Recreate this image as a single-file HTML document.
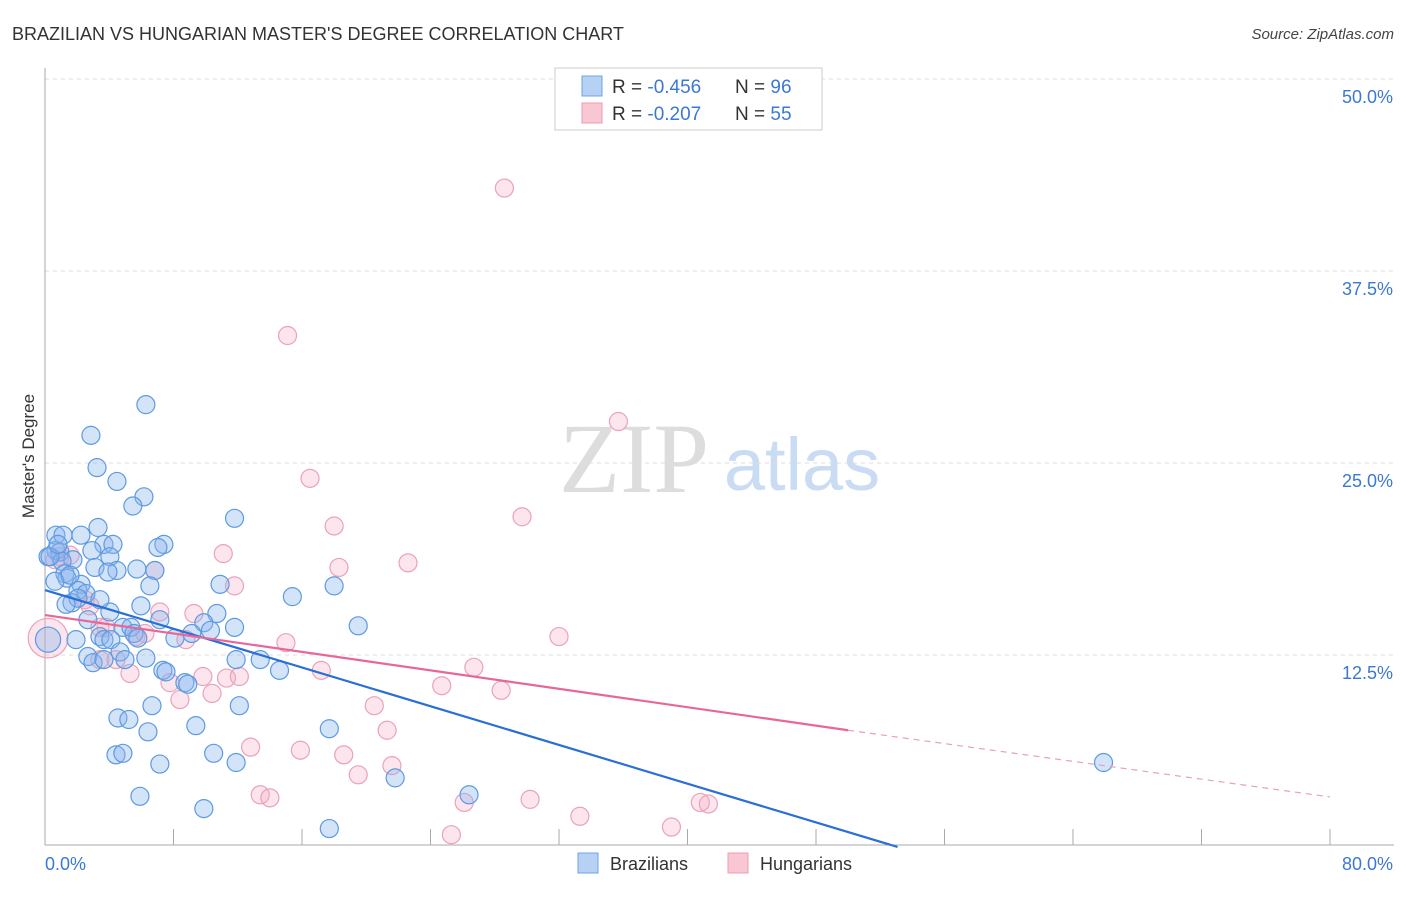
<!DOCTYPE html>
<html><head><meta charset="utf-8"><style>
body{margin:0;background:#fff;font-family:"Liberation Sans",sans-serif;}
svg text{font-family:"Liberation Sans",sans-serif;}
</style></head><body>
<svg id="chart" width="1406" height="892" xmlns="http://www.w3.org/2000/svg">
<text x="12" y="40" font-size="18" fill="#333">BRAZILIAN VS HUNGARIAN MASTER'S DEGREE CORRELATION CHART</text>
<text x="1394" y="39" font-size="15" fill="#444" font-style="italic" text-anchor="end">Source: ZipAtlas.com</text>
<text x="634" y="492" font-size="100" fill="#ddd" text-anchor="middle" font-family="Liberation Serif,serif" style="font-family:'Liberation Serif',serif">ZIP</text>
<text x="802" y="490" font-size="74" fill="#c9dcf3" text-anchor="middle">atlas</text>
<g id="grid"></g>
<g id="axes"></g>
<g id="pts"></g>
<g id="lines"></g>
<text transform="translate(34,456) rotate(-90)" font-size="17" fill="#333" text-anchor="middle">Master's Degree</text>
<g>
<rect x="555" y="68" width="267" height="62" fill="#fff" stroke="#ccc"/>
<rect x="582" y="76" width="20" height="20" fill="#b6d1f4" stroke="#6fa3e6"/>
<rect x="582" y="103" width="20" height="20" fill="#f9c6d4" stroke="#ec9db5"/>
<text x="612" y="93" font-size="19" fill="#333">R = <tspan fill="#3b78d6">-0.456</tspan></text>
<text x="735" y="93" font-size="19" fill="#333">N = <tspan fill="#3b78d6">96</tspan></text>
<text x="612" y="120" font-size="19" fill="#333">R = <tspan fill="#3b78d6">-0.207</tspan></text>
<text x="735" y="120" font-size="19" fill="#333">N = <tspan fill="#3b78d6">55</tspan></text>
</g>
<g>
<rect x="578" y="853" width="20" height="20" fill="#b6d1f4" stroke="#6fa3e6"/>
<text x="610" y="870" font-size="18" fill="#333">Brazilians</text>
<rect x="728" y="853" width="20" height="20" fill="#f9c6d4" stroke="#ec9db5"/>
<text x="760" y="870" font-size="18" fill="#333">Hungarians</text>
</g>
</svg>
<script>
const yTicks=[12.5,25,37.5,50];
const yTickLabels=["12.5%","25.0%","37.5%","50.0%"];
const xTicks=[0,8,16,24,32,40,48,56,64,72,80];
const xLabels=["0.0%","80.0%"];
const blueX=[6.28,2.86,3.24,4.48,6.16,5.47,11.8,3.30,0.68,1.12,2.24,7.40,7.03,3.67,4.23,0.68,0.93,0.19,2.92,1.74,4.04,1.06,3.11,4.48,3.92,1.24,1.37,5.72,6.84,6.53,10.9,18.0,2.24,2.05,2.55,1.68,2.05,15.4,5.97,4.04,10.7,9.89,19.5,11.8,4.85,5.35,5.54,3.42,3.67,4.10,5.78,8.09,9.14,1.93,4.67,2.67,2.99,6.28,3.67,11.9,13.4,7.34,7.53,14.6,8.71,8.89,6.66,12.1,4.54,5.22,9.39,6.41,17.7,4.42,4.85,10.5,7.15,11.9,21.8,5.91,26.4,9.89,17.7,65.9,0.31,0.62,1.31,3.42,7.15,10.3,4.98,1.56,0.81,2.67,0.19];
const blueY=[28.8,26.8,24.7,23.8,22.8,22.2,21.4,20.8,20.3,20.3,20.3,19.7,19.5,19.7,19.7,19.3,19.2,18.9,19.3,18.7,18.9,18.6,18.2,18.0,17.9,17.8,17.5,18.1,18.0,17.0,17.1,17.0,17.1,16.7,16.5,15.9,16.2,16.3,15.7,15.3,15.2,14.6,14.4,14.3,14.3,14.3,13.9,13.7,13.5,13.5,13.6,13.6,13.9,13.5,12.7,12.4,12.0,12.3,12.2,12.2,12.2,11.5,11.4,11.5,10.7,10.6,9.2,9.2,8.4,8.3,7.9,7.5,7.7,6.0,6.1,6.1,5.4,5.5,4.5,3.3,3.4,2.5,1.2,5.5,18.9,17.3,15.8,16.1,14.8,14.1,12.2,17.7,19.7,14.8,13.5];
const blueSize=blueX.map((v,i)=>i===blueX.length-1?1.4:1);
const pinkX=[28.6,15.1,35.7,16.5,29.7,18.0,11.1,22.6,18.3,11.8,6.84,0.93,0.62,1.56,2.80,7.15,9.27,2.49,3.42,6.22,8.77,32.0,15.0,3.42,4.42,5.29,17.2,26.7,9.83,11.3,12.1,24.7,28.4,7.78,10.4,8.40,20.5,21.3,12.8,15.9,18.6,19.5,21.6,13.4,14.0,30.2,26.1,40.8,41.3,33.3,39.0,25.3,3.80,5.66,0.19];
const pinkY=[42.9,33.3,27.7,24.0,21.5,20.9,19.1,18.5,18.2,17.0,18.0,18.9,18.7,19.0,15.7,15.3,15.2,16.1,14.3,13.9,13.5,13.7,13.3,12.2,12.2,11.3,11.5,11.7,11.1,11.0,11.1,10.5,10.2,10.7,10.0,9.6,9.2,7.6,6.5,6.3,6.0,4.7,5.3,3.4,3.2,3.1,2.9,2.9,2.8,2.0,1.3,0.8,14.3,13.7,13.6];
const pinkSize=pinkX.map((v,i)=>i===pinkX.length-1?2.2:1);
const blueTrend=[[0,16.73],[53.08,0]];
const pinkTrend=[[0,15.1],[50,7.6],[80,3.26]];

const X0=45,X1=1330,Y0=847,YTOP=79;
const sx=v=>X0+(X1-X0)*v/80;
const sy=v=>Y0-(Y0-YTOP)*v/50;
const NS="http://www.w3.org/2000/svg";
function mk(tag,attrs,parent){const e=document.createElementNS(NS,tag);for(const k in attrs)e.setAttribute(k,attrs[k]);parent.appendChild(e);return e;}
const grid=document.getElementById('grid'),axes=document.getElementById('axes'),pts=document.getElementById('pts'),lines=document.getElementById('lines');
yTicks.forEach((t,i)=>{
 const l=mk('line',{x1:45,x2:1394,y1:sy(t),y2:sy(t),stroke:'#ddd','stroke-dasharray':'4,4'},grid);
 
 
 const tx=mk('text',{x:1393,y:sy(t)+24,'font-size':18,fill:'#3b78d6','text-anchor':'end'},grid);
 tx.textContent=yTickLabels[i];
 
 
});
const ya=mk('line',{x1:45,x2:45,y1:68,y2:845,stroke:'#aaa'},axes);


const xa=mk('line',{x1:45,x2:1394,y1:845,y2:845,stroke:'#aaa'},axes);


xTicks.forEach(t=>{
 const l=mk('line',{x1:sx(t),x2:sx(t),y1:829,y2:845,stroke:'#aaa'},axes);
 
 
});
const xl0=mk('text',{x:45,y:870,'font-size':18,fill:'#3b78d6'},axes);xl0.textContent=xLabels[0];


const xl1=mk('text',{x:1393,y:870,'font-size':18,fill:'#3b78d6','text-anchor':'end'},axes);xl1.textContent=xLabels[1];


pinkX.forEach((v,i)=>{
 const c=mk('circle',{cx:sx(v),cy:sy(pinkY[i]),r:9*pinkSize[i],fill:'rgba(246,170,195,0.3)',stroke:'#eaa2ba','stroke-width':1.2},pts);
 
 
});
blueX.forEach((v,i)=>{
 const c=mk('circle',{cx:sx(v),cy:sy(blueY[i]),r:9*blueSize[i],fill:'rgba(140,182,236,0.38)',stroke:'#5d9ae2','stroke-width':1.2},pts);
 
 
});
const bl=mk('line',{x1:sx(blueTrend[0][0]),y1:sy(blueTrend[0][1]),x2:sx(blueTrend[1][0]),y2:sy(blueTrend[1][1]),stroke:'#2a6fd6','stroke-width':2.2},lines);


const pl=mk('line',{x1:sx(pinkTrend[0][0]),y1:sy(pinkTrend[0][1]),x2:sx(pinkTrend[1][0]),y2:sy(pinkTrend[1][1]),stroke:'#e8679a','stroke-width':2.2},lines);


const pd=mk('line',{x1:sx(pinkTrend[1][0]),y1:sy(pinkTrend[1][1]),x2:sx(pinkTrend[2][0]),y2:sy(pinkTrend[2][1]),stroke:'#e8a0bb','stroke-width':1.2,'stroke-dasharray':'6,5'},lines);


</script>
</body></html>
